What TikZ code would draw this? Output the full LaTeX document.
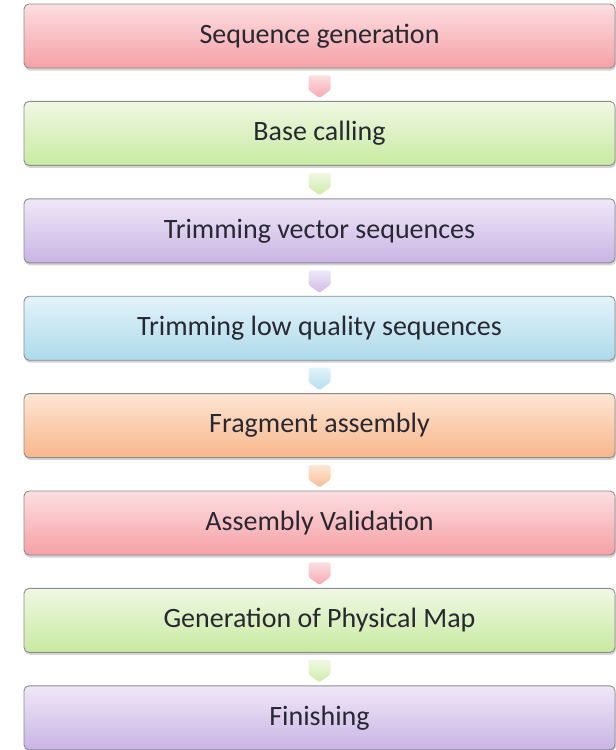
\documentclass[tikz,border=0pt]{standalone}
\usepackage{fontspec}
\setmainfont{Carlito}
\usepackage{tikz}
\usetikzlibrary{calc, shadows}
\definecolor{txtdark}{RGB}{40,40,50}
\definecolor{edgegray}{RGB}{140,140,140}
\definecolor{redtop}{RGB}{252,222,225}
\definecolor{redbot}{RGB}{245,160,166}
\definecolor{greentop}{RGB}{240,248,228}
\definecolor{greenbot}{RGB}{200,234,160}
\definecolor{purptop}{RGB}{240,232,248}
\definecolor{purpbot}{RGB}{200,180,228}
\definecolor{bluetop}{RGB}{228,243,250}
\definecolor{bluebot}{RGB}{172,218,234}
\definecolor{orgtop}{RGB}{253,230,212}
\definecolor{orgbot}{RGB}{248,182,138}
\tikzset{
  stage/.style={rectangle, draw=edgegray, line width=0.9pt,
    rounded corners=5pt, minimum width=591pt, minimum height=64pt,
    font=\fontsize{28}{32}\selectfont, text=txtdark,
    drop shadow={opacity=0.35, shadow xshift=1pt, shadow yshift=-2.5pt}},
  chev/.style={draw=none, rounded corners=1.5pt}
}
% block arrow between two stages, shaded like the upper one
\newcommand{\chevron}[3]{%
  \shade[chev, top color=#3top, bottom color=#3bot!90!white]
    ($(#1.south)+(-11pt,-7pt)$) -- ($(#1.south)+(11pt,-7pt)$)
    -- ($(#2.north)+(11pt,11pt)$) -- ($(#2.north)+(0pt,3pt)$)
    -- ($(#2.north)+(-11pt,11pt)$) -- cycle;}

\begin{document}
\begin{tikzpicture}[x=1pt, y=-1pt]
  \useasboundingbox (0,0) rectangle (616,750);

  \node[stage, top color=redtop, bottom color=redbot] (s1) at (319.5, 36.0) {Sequence generation};
  \node[stage, top color=greentop, bottom color=greenbot] (s2) at (319.5, 133.4) {Base calling};
  \node[stage, top color=purptop, bottom color=purpbot] (s3) at (319.5, 230.8) {Trimming vector sequences};
  \node[stage, top color=bluetop, bottom color=bluebot] (s4) at (319.5, 328.2) {Trimming low quality sequences};
  \node[stage, top color=orgtop, bottom color=orgbot] (s5) at (319.5, 425.6) {Fragment assembly};
  \node[stage, top color=redtop, bottom color=redbot] (s6) at (319.5, 523.0) {Assembly Validation};
  \node[stage, top color=greentop, bottom color=greenbot] (s7) at (319.5, 620.4) {Generation of Physical Map};
  \node[stage, top color=purptop, bottom color=purpbot] (s8) at (319.5, 717.8) {Finishing};

  % Arrows
  \chevron{s1}{s2}{red}
  \chevron{s2}{s3}{green}
  \chevron{s3}{s4}{purp}
  \chevron{s4}{s5}{blue}
  \chevron{s5}{s6}{org}
  \chevron{s6}{s7}{red}
  \chevron{s7}{s8}{green}
\end{tikzpicture}
\end{document}
